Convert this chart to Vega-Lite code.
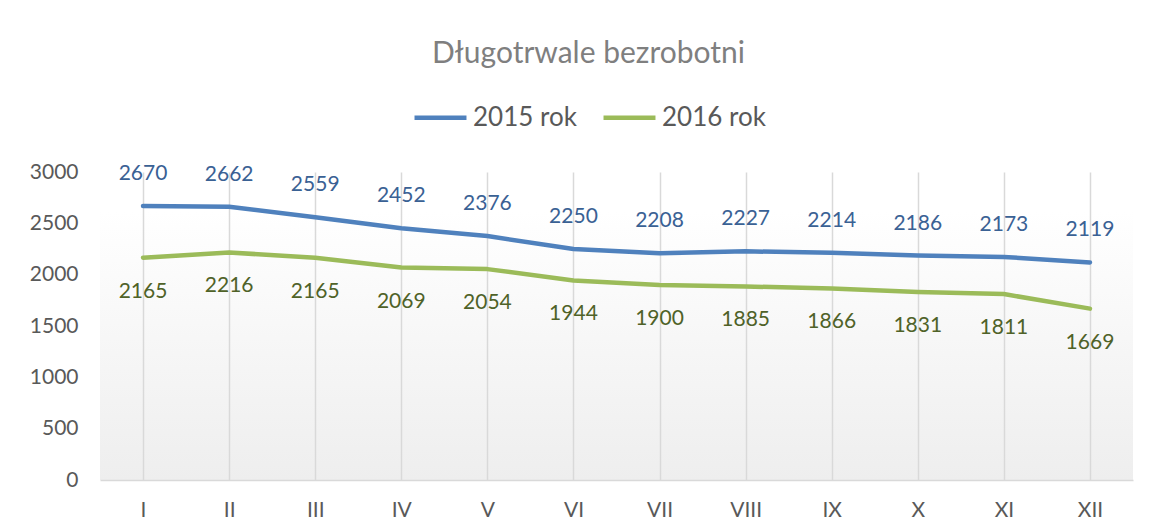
{
  "$schema": "https://vega.github.io/schema/vega-lite/v6.json",
  "autosize": {"type": "none"},
  "width": 1033,
  "height": 308,
  "padding": {"left": 100, "top": 172, "right": 16, "bottom": 51},
  "background": "white",
  "title": {
    "text": "Długotrwale bezrobotni",
    "font": "Lato",
    "fontSize": 30,
    "fontWeight": "normal",
    "color": "#7f7f7f",
    "anchor": "middle",
    "dx": -28,
    "offset": 20
  },
  "config": {
    "font": "Lato",
    "view": {
      "stroke": null,
      "fill": {
        "gradient": "linear",
        "x1": 0, "y1": 0, "x2": 0, "y2": 1,
        "stops": [
          {"offset": 0, "color": "#ffffff"},
          {"offset": 0.13, "color": "#ffffff"},
          {"offset": 1, "color": "#eeeeee"}
        ]
      }
    }
  },
  "data": {
    "values": [
      {"month": "I", "series": "2015 rok", "value": 2670},
      {"month": "II", "series": "2015 rok", "value": 2662},
      {"month": "III", "series": "2015 rok", "value": 2559},
      {"month": "IV", "series": "2015 rok", "value": 2452},
      {"month": "V", "series": "2015 rok", "value": 2376},
      {"month": "VI", "series": "2015 rok", "value": 2250},
      {"month": "VII", "series": "2015 rok", "value": 2208},
      {"month": "VIII", "series": "2015 rok", "value": 2227},
      {"month": "IX", "series": "2015 rok", "value": 2214},
      {"month": "X", "series": "2015 rok", "value": 2186},
      {"month": "XI", "series": "2015 rok", "value": 2173},
      {"month": "XII", "series": "2015 rok", "value": 2119},
      {"month": "I", "series": "2016 rok", "value": 2165},
      {"month": "II", "series": "2016 rok", "value": 2216},
      {"month": "III", "series": "2016 rok", "value": 2165},
      {"month": "IV", "series": "2016 rok", "value": 2069},
      {"month": "V", "series": "2016 rok", "value": 2054},
      {"month": "VI", "series": "2016 rok", "value": 1944},
      {"month": "VII", "series": "2016 rok", "value": 1900},
      {"month": "VIII", "series": "2016 rok", "value": 1885},
      {"month": "IX", "series": "2016 rok", "value": 1866},
      {"month": "X", "series": "2016 rok", "value": 1831},
      {"month": "XI", "series": "2016 rok", "value": 1811},
      {"month": "XII", "series": "2016 rok", "value": 1669}
    ]
  },
  "encoding": {
    "x": {
      "field": "month",
      "type": "ordinal",
      "sort": null,
      "scale": {"type": "point", "padding": 0.5},
      "axis": {
        "title": null,
        "labelAngle": 0,
        "labelFontSize": 21,
        "labelColor": "#595959",
        "labelPadding": 19,
        "ticks": false,
        "domainColor": "#d9d9d9",
        "domainWidth": 1.5,
        "grid": true,
        "gridColor": "#d9d9d9",
        "gridWidth": 1.5
      }
    },
    "y": {
      "field": "value",
      "type": "quantitative",
      "scale": {"domain": [0, 3000], "nice": false},
      "axis": {
        "title": null,
        "format": "d",
        "values": [0, 500, 1000, 1500, 2000, 2500, 3000],
        "labelFontSize": 21,
        "labelColor": "#595959",
        "labelPadding": 22,
        "ticks": false,
        "domain": false,
        "grid": false
      }
    }
  },
  "layer": [
    {
      "mark": {"type": "line", "strokeWidth": 4.5, "strokeCap": "round", "strokeJoin": "round"},
      "encoding": {
        "color": {
          "field": "series",
          "type": "nominal",
          "scale": {"domain": ["2015 rok", "2016 rok"], "range": ["#4f81bd", "#9bbb59"]},
          "legend": {
            "title": null,
            "orient": "none",
            "direction": "horizontal",
            "legendX": 312,
            "legendY": -83,
            "symbolType": "stroke",
            "symbolSize": 2700,
            "symbolStrokeWidth": 4.5,
            "labelFontSize": 26,
            "labelColor": "#595959",
            "labelOffset": 4,
            "columnPadding": 17
          }
        }
      }
    },
    {
      "transform": [{"filter": "datum.series === '2015 rok'"}],
      "mark": {"type": "text", "dy": -32, "fontSize": 21, "color": "#3a6194"},
      "encoding": {"text": {"field": "value", "type": "quantitative"}}
    },
    {
      "transform": [{"filter": "datum.series === '2016 rok'"}],
      "mark": {"type": "text", "dy": 34, "fontSize": 21, "color": "#4f6228"},
      "encoding": {"text": {"field": "value", "type": "quantitative"}}
    }
  ]
}
